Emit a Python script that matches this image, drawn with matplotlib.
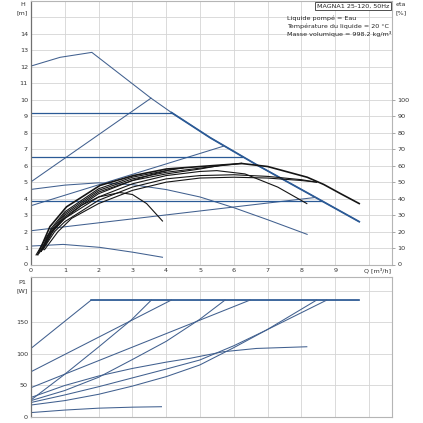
import numpy as np
import matplotlib
matplotlib.use("Agg")
import matplotlib.pyplot as plt

# ---------------- data: head curves H [m] vs Q [m3/h] ----------------
max_q = [0, 0.86, 1.8, 3.55, 4.16, 5.3, 6.68, 8.0, 9.71]
max_h = [12.05, 12.58, 12.88, 10.1, 9.22, 7.7, 6.05, 4.55, 2.6]
b_q = [0, 3.55]
b_h = [5.02, 10.1]
c_q = [0, 4.16]
c_h = [9.2, 9.2]
d_q = [0, 6.25]
d_h = [6.55, 6.55]
e_q = [0, 5.72]
e_h = [3.57, 7.2]
mc_q = [0, 1, 2, 3, 4, 5, 6, 7, 8.17]
mc_h = [4.56, 4.82, 4.96, 4.85, 4.55, 4.1, 3.45, 2.72, 1.83]
f_q = [0, 8.6]
f_h = [3.85, 3.85]
g_q = [0, 8.41]
g_h = [2.05, 4.07]
lc_q = [0, 0.95, 2.04, 3.03, 3.89]
lc_h = [1.12, 1.22, 1.04, 0.74, 0.44]

# ---------------- data: efficiency eta [%] ----------------
emax_q = [0.2, 0.56, 1.05, 2.04, 3.03, 4.01, 5.35, 6.24, 7, 8.17, 8.66, 9.16, 9.71]
emax_e = [6, 23, 35, 48, 54, 58, 60, 61.3, 59.5, 53, 48.6, 43, 37]
elc_q = [0.15, 0.5, 1, 1.5, 2, 2.63, 3, 3.42, 3.89]
elc_e = [5.8, 18, 28, 36, 41, 43.7, 42.5, 37, 26.4]
emc_q = [0.3, 0.6, 1, 2, 3, 4, 5, 5.5, 6.33, 7.3, 8.16]
emc_e = [8, 19, 28, 41, 49, 54, 56.5, 57, 55, 47, 37]
ef_q = [0.35, 0.7, 1, 2, 3, 4, 5, 6, 7, 8, 8.45]
ef_e = [9, 20, 26, 39, 47, 52, 54, 54.5, 53.5, 51.5, 50]
eg_q = [0.4, 0.8, 1.2, 2, 3, 4, 5, 6, 7, 8, 8.45]
eg_e = [9, 20, 28, 37, 45, 50, 52.5, 53, 52.5, 51, 50]
ee_q = [0.3, 0.6, 1, 2, 3, 4, 5, 5.72]
ee_e = [8, 20, 30, 44, 51, 55, 58, 60.6]
ed_q = [0.25, 0.6, 1, 2, 3, 4, 5, 6.23]
ed_e = [7, 21, 31, 45, 52, 56, 58.5, 61.5]
ec_q = [0.3, 0.6, 1, 2, 3, 4, 4.5]
ec_e = [8, 22, 32, 46, 53, 57, 58.6]
eb_q = [0.35, 0.7, 1, 2, 3, 3.55, 4.2]
eb_e = [9, 22, 29, 43, 51, 54.5, 58]

# ---------------- data: power P1 [W] ----------------
pmax_q = [0, 1.78, 9.71]
pmax_p = [108.8, 185.4, 185.4]
pc_q = [0, 4.15]
pc_p = [71.8, 185.4]
pd_q = [0, 6.48]
pd_p = [46.5, 185.4]
pb_q = [0, 0.98, 2, 2.97, 3.56]
pb_p = [27, 67, 111, 154, 185.4]
pe_q = [0, 1, 2, 2.97, 4, 4.99, 5.74]
pe_p = [26, 42, 63, 90.3, 120, 154.8, 185.4]
pmc_q = [0, 1, 2, 3, 4, 4.7, 5.69, 6.67, 8.16]
pmc_p = [31, 50, 65, 77, 87, 93, 103.5, 108.7, 111.4]
pl1_q = [0, 1, 2, 3, 4, 4.99, 6, 6.97, 8.45]
pl1_p = [23, 35, 48, 62, 76, 90.3, 113, 138, 185.4]
pl2_q = [0, 1, 2, 3, 4, 4.99, 6, 6.97, 8.75]
pl2_p = [19, 26, 36, 49, 64, 82.4, 110, 138, 185.4]
plc_q = [0, 1, 2, 3, 3.86]
plc_p = [7, 11, 14, 15.6, 16.3]

x_ticks = list(range(0, 11))
x_labels = [str(i) for i in range(0, 10)] + [""]
h_ticks = list(range(0, 17))
h_labels = [str(i) for i in range(0, 15)] + ["", ""]
eta_ticks = list(range(0, 101, 10))
p_ticks = [0, 50, 100, 150, 200]
p_labels = ["0", "50", "100", "150", ""]

BLUE = "#41608f"
BLUE_DK = "#2b5a96"
BLACK = "#151515"
GRID = "#d4d4d4"
FS = 4.6

W = 423.0
fig = plt.figure(figsize=(4.23, 4.23), dpi=100)
fig.patch.set_facecolor("white")

def style(a):
    for s in ["top", "right", "bottom"]:
        a.spines[s].set_color("#b5b5b5")
        a.spines[s].set_linewidth(0.8)
    a.spines["left"].set_color("#707070")
    a.spines["left"].set_linewidth(0.9)
    a.grid(True, color=GRID, lw=0.6)
    a.set_axisbelow(True)

ax = fig.add_axes([31 / W, 1 - 264.5 / W, 361 / W, 263.5 / W])
ax.set_xlim(0, 10.68)
ax.set_ylim(0, 16)
style(ax)
ax.set_xticks(x_ticks)
ax.set_xticklabels(x_labels, fontsize=FS)
ax.set_yticks(h_ticks)
ax.set_yticklabels(h_labels, fontsize=FS)
ax.tick_params(axis="both", length=0, pad=2.2, colors="#333333", labelsize=FS)

lw = 0.75
# head curves
ax.plot(max_q, max_h, color=BLUE, lw=lw)
mq = np.array(max_q); mh = np.array(max_h)
sel = mq >= 4.16
ax.plot(mq[sel], mh[sel], color=BLUE_DK, lw=1.3)
for q, h in [(b_q, b_h), (e_q, e_h), (mc_q, mc_h), (g_q, g_h), (lc_q, lc_h)]:
    ax.plot(q, h, color=BLUE, lw=lw)
for q, h in [(c_q, c_h), (d_q, d_h), (f_q, f_h)]:
    ax.plot(q, h, color=BLUE_DK, lw=0.9)

ax2 = ax.twinx()
ax2.set_ylim(0, 160)
ax2.set_yticks(eta_ticks)
ax2.set_yticklabels([str(t) for t in eta_ticks], fontsize=FS)
ax2.tick_params(axis="y", length=2.5, width=0.6, color="#999999", pad=1.5,
                colors="#333333", labelsize=FS)
ax2.tick_params(axis="y", color="#999999")
for s in ax2.spines.values():
    s.set_visible(False)

for q, e in [(elc_q, elc_e), (emc_q, emc_e), (ef_q, ef_e), (eg_q, eg_e),
             (ee_q, ee_e), (ed_q, ed_e), (ec_q, ec_e), (eb_q, eb_e)]:
    ax2.plot(q, e, color=BLACK, lw=0.8)
ax2.plot(emax_q, emax_e, color=BLACK, lw=1.2)

# labels / texts
fig.text(22.5 / W, 1 - 5 / W, "H", fontsize=FS, ha="center", va="center", color="#333333")
fig.text(22.5 / W, 1 - 13 / W, "[m]", fontsize=FS, ha="center", va="center", color="#333333")
fig.text(401 / W, 1 - 5 / W, "eta", fontsize=FS, ha="center", va="center", color="#333333")
fig.text(401 / W, 1 - 13 / W, "[%]", fontsize=FS, ha="center", va="center", color="#333333")
fig.text(377 / W, 1 - 270.5 / W, "Q [m³/h]", fontsize=FS, ha="center", va="center", color="#333333")
fig.text(389 / W, 1 - 6 / W, "MAGNA1 25-120, 50Hz", fontsize=FS, ha="right", va="center",
         color="#222222",
         bbox=dict(boxstyle="square,pad=0.25", fc="white", ec="#333333", lw=0.6))
info = ["Liquide pompé = Eau", "Température du liquide = 20 °C", "Masse volumique = 998.2 kg/m³"]
for i, t in enumerate(info):
    fig.text(287 / W, 1 - (18 + 8 * i) / W, t, fontsize=FS, ha="left", va="center", color="#222222")

# power panel
ax3 = fig.add_axes([31 / W, 1 - 417 / W, 361 / W, 140 / W])
ax3.set_xlim(0, 10.68)
ax3.set_ylim(0, 222)
style(ax3)
ax3.set_xticks(x_ticks)
ax3.set_xticklabels([])
ax3.set_yticks(p_ticks)
ax3.set_yticklabels(p_labels, fontsize=FS)
ax3.tick_params(axis="both", length=0, pad=2.2, colors="#333333", labelsize=FS)

ax3.plot(pmax_q, pmax_p, color=BLUE, lw=lw)
pq = np.array(pmax_q); pp = np.array(pmax_p)
ax3.plot(pq[1:], pp[1:], color=BLUE_DK, lw=1.1)
for q, p in [(pc_q, pc_p), (pd_q, pd_p), (pb_q, pb_p), (pe_q, pe_p), (pmc_q, pmc_p),
             (pl1_q, pl1_p), (pl2_q, pl2_p), (plc_q, plc_p)]:
    ax3.plot(q, p, color=BLUE, lw=lw)

fig.text(22.5 / W, 1 - 282 / W, "P1", fontsize=FS, ha="center", va="center", color="#333333")
fig.text(22.5 / W, 1 - 291 / W, "[W]", fontsize=FS, ha="center", va="center", color="#333333")

fig.savefig("out.png", dpi=100)
